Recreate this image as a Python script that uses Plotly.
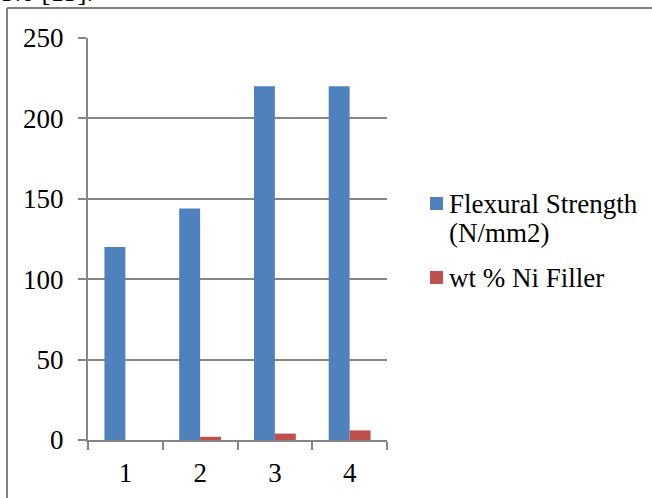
import plotly.graph_objects as go

categories = ["1", "2", "3", "4"]
flexural = [120, 144, 220, 220]
ni_filler = [0, 2, 4, 6]
y_ticks = [0, 50, 100, 150, 200, 250]
series_names = ["Flexural Strength", "wt % Ni Filler"]
series_colors = ["#4f81bd", "#c0504d"]

FONT = "Liberation Serif, Times New Roman, serif"
FS = 27
W, H = 652, 498
L, R, T, B = 88, 265, 38, 58
pw, ph = W - L - R, H - T - B

def px(x):
    return (x - L) / pw

def py(y):
    return (H - B - y) / ph

fig = go.Figure()
fig.add_trace(go.Bar(x=categories, y=flexural, name=series_names[0] + " (N/mm2)",
                     marker=dict(color=series_colors[0], line=dict(width=0))))
fig.add_trace(go.Bar(x=categories, y=ni_filler, name=series_names[1],
                     marker=dict(color=series_colors[1], line=dict(width=0))))

fig.update_layout(
    width=W, height=H,
    margin=dict(l=L, r=R, t=T, b=B, autoexpand=False),
    paper_bgcolor="white", plot_bgcolor="white",
    barmode="group", bargap=0.44, bargroupgap=0,
    font=dict(family=FONT, size=FS, color="black"),
    showlegend=False,
    xaxis=dict(showline=True, linecolor="#868686", linewidth=2,
               ticks="outside", ticklen=8, tickcolor="#868686", tickwidth=2,
               tickson="boundaries", showgrid=False,
               tickfont=dict(family=FONT, size=FS), ticklabelstandoff=8),
    yaxis=dict(range=[0, 250], tickvals=y_ticks, showline=True, linecolor="#868686",
               linewidth=2, ticks="outside", ticklen=8, tickcolor="#868686", tickwidth=2,
               showgrid=True, gridcolor="#868686", gridwidth=1.5, zeroline=False,
               tickfont=dict(family=FONT, size=FS), ticklabelstandoff=9),
)

# outer frame (top and left edges visible)
fig.add_shape(type="line", xref="paper", yref="paper",
              x0=px(7), x1=px(W + 5), y0=py(8), y1=py(8),
              line=dict(color="#7f7f7f", width=2))
fig.add_shape(type="line", xref="paper", yref="paper",
              x0=px(7), x1=px(7), y0=py(8), y1=py(H + 5),
              line=dict(color="#7f7f7f", width=2))

# legend (drawn manually for exact placement)
legend_rows = [
    (series_colors[0], [series_names[0], "(N/mm2)"], 203),
    (series_colors[1], [series_names[1]], 277),
]
for color, lines, yc in legend_rows:
    fig.add_shape(type="rect", xref="paper", yref="paper",
                  x0=px(430), x1=px(443), y0=py(yc - 6), y1=py(yc + 7),
                  fillcolor=color, line=dict(width=0))
    for i, txt in enumerate(lines):
        fig.add_annotation(text=txt, xref="paper", yref="paper",
                           x=px(447), y=py(yc + 1 + 29 * i), xanchor="left", yanchor="middle",
                           showarrow=False, font=dict(family=FONT, size=FS, color="black"))

fig.add_annotation(text="3.0 [13].", xref="paper", yref="paper",
                   x=px(-1), y=py(9), xanchor="left", yanchor="bottom",
                   showarrow=False, font=dict(family=FONT, size=FS, color="black"))

fig.write_html("out.html")
